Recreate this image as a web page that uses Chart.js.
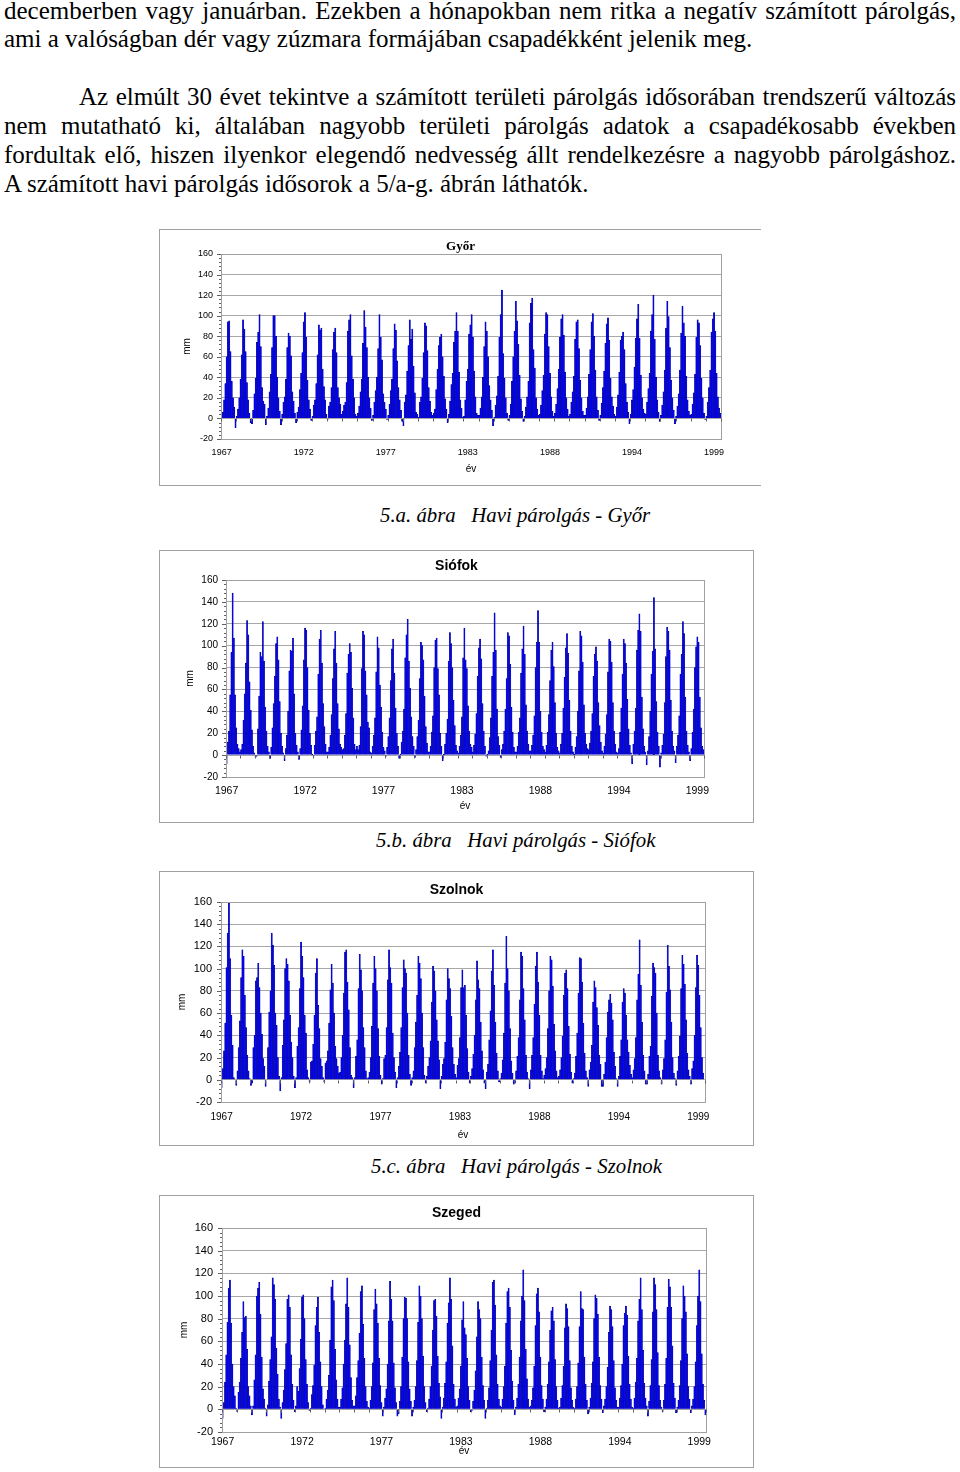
<!DOCTYPE html>
<html lang="hu">
<head>
<meta charset="utf-8">
<title>Havi párolgás</title>
<script src="https://cdn.jsdelivr.net/npm/chart.js@4.4.1/dist/chart.umd.min.js"></script>
<style>
  html, body { margin: 0; padding: 0; background: #fff; }
  body { position: relative; width: 960px; height: 1472px; overflow: hidden; }
  .line {
    position: absolute; left: 4px; width: 952px; height: 28px; line-height: 28px;
    font-family: "Liberation Serif", "Times New Roman", Times, serif; font-size: 25px; color: #000;
    white-space: nowrap;
  }
  .just { text-align: justify; text-align-last: justify; white-space: normal; }
  .indent { left: 79px; width: 877px; }
  .caption {
    position: absolute; line-height: 24px; white-space: pre;
    font-family: "Liberation Serif", "Times New Roman", Times, serif; font-size: 20.8px; font-style: italic; color: #000;
  }
  .box { position: absolute; box-sizing: border-box; border: 1px solid #a0a0a0; background: #fff; }
  .box canvas { position: absolute; left: 0; top: 0; }
</style>
</head>
<body>

<div class="line just" style="top:-3px">decemberben vagy januárban. Ezekben a hónapokban nem ritka a negatív számított párolgás,</div>
<div class="line" style="top:25px">ami a valóságban dér vagy zúzmara formájában csapadékként jelenik meg.</div>

<div class="line just indent" style="top:83px">Az elmúlt 30 évet tekintve a számított területi párolgás idősorában trendszerű változás</div>
<div class="line just" style="top:112px">nem mutatható ki, általában nagyobb területi párolgás adatok a csapadékosabb években</div>
<div class="line just" style="top:141px">fordultak elő, hiszen ilyenkor elegendő nedvesség állt rendelkezésre a nagyobb párolgáshoz.</div>
<div class="line" style="top:170px">A számított havi párolgás idősorok a 5/a-g. ábrán láthatók.</div>

<div class="box" style="left:159px; top:229px; width:602px; height:257px; border-right:none;">
  <canvas id="c1" width="601" height="255"></canvas>
</div>
<div class="caption" style="left:380px; top:503px;">5.a. ábra   Havi párolgás - Győr</div>

<div class="box" style="left:159px; top:550px; width:595px; height:273px;">
  <canvas id="c2" width="593" height="271"></canvas>
</div>
<div class="caption" style="left:376px; top:828px;">5.b. ábra   Havi párolgás - Siófok</div>

<div class="box" style="left:159px; top:871px; width:595px; height:275px;">
  <canvas id="c3" width="593" height="273"></canvas>
</div>
<div class="caption" style="left:371px; top:1154px;">5.c. ábra   Havi párolgás - Szolnok</div>

<div class="box" style="left:159px; top:1195px; width:595px; height:273px;">
  <canvas id="c4" width="593" height="271"></canvas>
</div>

<script>
// évek és a kiírt tengelyfeliratok helye (minden 65. hónap)
const years = [];
for (let y = 1967; y <= 1999; y++) years.push(y);
const tickMonths = [0, 65, 130, 195, 260, 325, 390];
const yTicks = { min: -20, max: 160, step: 20 };

// havi párolgás, mm (jan..dec), évenként
const gyor = [
    [3, 6, 18, 34, 60, 94, 95, 65, 36, 20, 11, -9],
    [2, 9, 20, 38, 62, 96, 87, 65, 35, 18, 5, -4],
    [-5, 8, 24, 39, 74, 84, 101, 70, 30, 17, 14, -6],
    [2, 10, 26, 43, 69, 100, 100, 80, 40, 20, 7, -6],
    [4, 16, 21, 38, 69, 83, 80, 61, 26, 17, 5, -4],
    [6, 11, 28, 44, 64, 94, 103, 79, 37, 18, 9, -2],
    [2, 13, 18, 34, 62, 91, 86, 88, 48, 31, 18, 4],
    [-1, 12, 16, 30, 67, 84, 88, 64, 30, 20, 14, 4],
    [7, 13, 16, 35, 85, 96, 101, 61, 38, 20, 4, 2],
    [5, 12, 26, 38, 73, 105, 89, 69, 40, 20, 10, -2],
    [3, 16, 27, 40, 68, 101, 79, 57, 24, 16, 9, -1],
    [3, 14, 27, 38, 68, 92, 86, 56, 30, 18, 8, -3],
    [-7, 16, 23, 46, 71, 96, 77, 87, 51, 25, 6, 4],
    [1, 16, 21, 39, 64, 93, 90, 66, 30, 17, 6, 3],
    [5, 9, 28, 48, 71, 79, 82, 60, 41, 19, 9, -4],
    [4, 17, 33, 44, 74, 85, 103, 85, 45, 18, 10, 1],
    [2, 18, 36, 48, 82, 91, 101, 79, 46, 21, 5, 3],
    [3, 10, 21, 40, 70, 94, 85, 60, 32, 18, 8, -7],
    [1, 13, 22, 41, 79, 101, 125, 63, 39, 20, 5, -2],
    [3, 14, 36, 60, 85, 114, 95, 72, 42, 19, 7, -3],
    [2, 11, 21, 36, 93, 112, 117, 67, 49, 20, 9, 3],
    [4, 13, 27, 42, 82, 103, 101, 70, 44, 21, 7, 2],
    [5, 14, 29, 48, 79, 97, 101, 81, 45, 20, 9, 2],
    [4, 16, 26, 41, 77, 94, 96, 68, 37, 20, 7, 3],
    [3, 10, 21, 43, 67, 94, 102, 80, 47, 21, 8, -2],
    [3, 15, 30, 46, 73, 92, 98, 76, 39, 21, 12, 4],
    [2, 11, 23, 45, 76, 80, 84, 67, 34, 16, 6, -5],
    [4, 18, 28, 50, 78, 97, 111, 78, 42, 20, 9, 5],
    [4, 16, 29, 44, 85, 101, 120, 77, 40, 18, 6, -3],
    [3, 13, 26, 47, 88, 114, 99, 69, 37, 20, 8, -5],
    [2, 12, 24, 47, 83, 109, 93, 80, 41, 18, 7, 3],
    [4, 14, 25, 43, 79, 96, 93, 71, 39, 20, 5, -1],
    [2, 16, 30, 47, 84, 97, 103, 85, 44, 21, 10, 5]
];

const siofok = [
    [-8, 12, 22, 55, 94, 148, 107, 55, 25, 10, 6, 3],
    [5, 10, 32, 56, 84, 123, 110, 67, 41, 23, 8, 2],
    [-2, -1, 24, 54, 94, 90, 122, 86, 44, 22, 8, 3],
    [-3, 7, 25, 47, 72, 102, 108, 87, 49, 20, 8, 2],
    [-5, 6, 18, 40, 77, 96, 95, 107, 56, 20, 9, 3],
    [-4, 6, 23, 45, 87, 116, 114, 80, 41, 20, 9, 1],
    [-1, 9, 22, 35, 74, 106, 114, 84, 47, 26, 10, 3],
    [3, 7, 18, 37, 70, 97, 113, 84, 47, 24, 10, 7],
    [5, 6, 18, 38, 75, 92, 102, 94, 61, 34, 10, 5],
    [8, 5, 9, 26, 79, 113, 110, 77, 55, 30, 25, 3],
    [2, 8, 18, 34, 76, 108, 98, 64, 44, 21, 7, 4],
    [-1, 7, 17, 34, 68, 97, 106, 75, 43, 20, 8, -3],
    [1, 12, 22, 42, 89, 110, 124, 86, 61, 35, 17, 8],
    [-2, 5, 17, 32, 70, 103, 100, 87, 54, 26, 11, 3],
    [3, 8, 21, 36, 80, 105, 107, 79, 55, 20, 8, -5],
    [1, 10, 20, 33, 86, 112, 102, 80, 50, 27, 9, 4],
    [2, 8, 18, 35, 89, 116, 87, 79, 45, 22, 10, 7],
    [3, 9, 19, 38, 72, 98, 106, 88, 47, 22, 8, -1],
    [1, 4, 16, 34, 72, 94, 130, 96, 42, 17, 9, -2],
    [5, 10, 22, 42, 70, 112, 109, 83, 44, 21, 7, 3],
    [3, 8, 21, 34, 75, 97, 118, 92, 46, 22, 10, 4],
    [4, 9, 18, 36, 80, 103, 132, 103, 40, 21, 8, 5],
    [3, 9, 21, 37, 68, 96, 103, 81, 48, 20, 7, 4],
    [2, 10, 20, 43, 71, 98, 111, 93, 50, 22, 8, 3],
    [1, 7, 17, 40, 77, 113, 109, 85, 46, 20, 10, 6],
    [5, 11, 22, 38, 72, 92, 99, 86, 48, 27, 12, 4],
    [2, 8, 19, 37, 76, 106, 104, 85, 48, 22, 10, 3],
    [2, 6, 21, 43, 74, 106, 102, 84, 51, 24, 9, 2],
    [-8, 10, 22, 43, 96, 114, 129, 113, 53, 24, 8, 3],
    [-9, 4, 17, 40, 74, 95, 144, 97, 49, 21, 8, -11],
    [2, 9, 19, 48, 90, 117, 113, 96, 50, 22, 8, 4],
    [-7, 8, 18, 36, 74, 92, 122, 111, 53, 22, 9, 3],
    [-5, 6, 21, 42, 80, 99, 108, 103, 53, 25, 8, 5]
];

const szolnok = [
    [-7, 10, 26, 51, 101, 132, 159, 109, 58, 31, 2, 0],
    [-5, 8, 29, 53, 92, 117, 111, 76, 47, 22, 8, 1],
    [-5, -3, 29, 40, 89, 92, 105, 83, 60, 41, 19, 12],
    [-6, 0, 29, 61, 80, 132, 121, 103, 60, 49, 20, 3],
    [-10, 2, 31, 54, 100, 109, 104, 89, 58, 34, 20, 3],
    [-7, 2, 30, 47, 82, 124, 111, 92, 58, 42, 9, 2],
    [-2, 16, 17, 32, 58, 96, 109, 67, 46, 19, 12, 2],
    [-2, 15, 17, 26, 51, 81, 104, 87, 60, 30, 19, 12],
    [6, 7, 20, 40, 78, 115, 117, 88, 63, 29, 4, 2],
    [-7, 2, 21, 36, 82, 113, 99, 80, 47, 29, 8, 1],
    [2, 7, 20, 48, 87, 111, 100, 80, 46, 21, 4, -4],
    [1, 19, 22, 47, 90, 117, 101, 87, 42, 20, 7, -7],
    [2, 12, 25, 47, 83, 108, 100, 96, 60, 22, 5, -5],
    [2, 8, 29, 52, 76, 111, 105, 91, 60, 29, 4, -3],
    [3, 12, 20, 35, 70, 102, 98, 80, 54, 35, 18, -8],
    [3, 14, 19, 34, 72, 100, 91, 82, 57, 29, 14, 5],
    [2, 13, 19, 38, 83, 99, 83, 85, 58, 28, 7, -3],
    [3, 10, 23, 40, 72, 107, 90, 82, 52, 26, 9, -3],
    [-8, 7, 14, 36, 62, 98, 117, 85, 52, 24, 8, -2],
    [1, 6, 18, 42, 87, 129, 100, 80, 46, 17, 6, -4],
    [-3, 8, 21, 38, 72, 115, 111, 82, 54, 22, 7, 1],
    [-8, 9, 22, 38, 68, 102, 115, 88, 58, 22, 8, 1],
    [4, 10, 20, 46, 80, 111, 108, 84, 50, 26, 8, 2],
    [3, 9, 20, 39, 76, 96, 99, 82, 48, 23, 7, -3],
    [1, 6, 21, 42, 78, 110, 109, 88, 51, 24, 8, 2],
    [-6, 9, 16, 31, 70, 89, 83, 65, 49, 22, 14, -6],
    [-6, 5, 16, 38, 61, 72, 77, 69, 54, 25, 12, 1],
    [-6, 3, 21, 36, 70, 82, 78, 58, 36, 25, 13, 5],
    [2, 9, 19, 38, 72, 95, 126, 85, 52, 22, 8, -4],
    [-4, 5, 21, 30, 75, 105, 101, 96, 60, 22, 8, 2],
    [-4, 9, 19, 36, 79, 121, 102, 81, 52, 20, 6, 1],
    [-5, 8, 21, 39, 82, 112, 104, 86, 54, 24, 9, 3],
    [-4, 10, 17, 40, 83, 112, 103, 76, 47, 20, 6, 0]
];

const szeged = [
    [-8, 6, 24, 48, 77, 107, 114, 76, 40, 20, 12, 1],
    [-2, 15, 24, 45, 68, 95, 81, 82, 53, 20, 12, 3],
    [-5, 3, 26, 48, 100, 107, 112, 84, 46, 18, 9, 1],
    [-6, 4, 25, 44, 64, 116, 110, 97, 54, 31, 9, 2],
    [-8, 6, 17, 35, 58, 97, 101, 90, 48, 22, 8, -2],
    [3, 20, 16, 36, 62, 99, 101, 80, 44, 22, 6, -1],
    [1, 13, 21, 39, 74, 90, 99, 68, 42, 20, 4, 0],
    [1, 9, 17, 30, 61, 108, 114, 96, 53, 26, 9, 2],
    [2, 9, 19, 40, 61, 93, 116, 90, 57, 28, 8, 3],
    [3, 12, 28, 43, 67, 104, 109, 75, 45, 20, 7, 2],
    [1, 8, 20, 41, 88, 106, 93, 76, 45, 21, 6, -6],
    [2, 10, 18, 40, 78, 113, 97, 78, 41, 19, 6, -6],
    [-4, 7, 20, 46, 80, 99, 98, 80, 42, 18, 7, -6],
    [2, 8, 20, 43, 77, 109, 100, 80, 47, 20, 6, -2],
    [1, 9, 20, 38, 70, 96, 97, 82, 47, 23, 11, -8],
    [2, 10, 23, 42, 76, 94, 116, 97, 56, 22, 9, 2],
    [3, 10, 18, 38, 79, 95, 72, 66, 45, 20, 8, -2],
    [-1, 7, 17, 34, 64, 95, 88, 80, 46, 21, 8, -8],
    [1, 8, 19, 43, 70, 112, 114, 92, 48, 22, 9, 3],
    [2, 9, 20, 38, 76, 104, 107, 90, 52, 25, 8, -5],
    [2, 10, 22, 46, 78, 100, 123, 96, 53, 27, 9, 2],
    [3, 8, 19, 38, 74, 102, 107, 86, 46, 21, 9, -2],
    [2, 9, 22, 42, 70, 87, 90, 78, 44, 20, 8, 1],
    [2, 10, 21, 38, 72, 93, 89, 73, 43, 19, 8, 2],
    [1, 9, 20, 41, 73, 104, 89, 88, 46, 22, 8, -4],
    [2, 10, 23, 42, 80, 101, 98, 84, 46, 21, 9, -3],
    [3, 9, 20, 37, 68, 91, 88, 73, 43, 19, 8, 2],
    [2, 10, 21, 40, 74, 85, 91, 83, 47, 22, 9, 2],
    [1, 10, 24, 45, 78, 97, 116, 88, 52, 23, 10, 3],
    [-6, 7, 21, 44, 86, 116, 110, 88, 50, 21, 8, 2],
    [-2, 8, 22, 45, 90, 115, 108, 90, 56, 23, 10, -3],
    [2, 8, 21, 43, 80, 109, 100, 86, 49, 20, 9, -3],
    [3, 9, 20, 42, 74, 100, 123, 95, 49, 22, 8, -5]
];

// kategóriák: minden hónap egy oszlop, felirata az év
const months = [];
years.forEach(y => {
    for (let m = 0; m < 12; m++) months.push(String(y));
});

const SANS = '"Liberation Sans", Arial, sans-serif';
const SERIF = '"Liberation Serif", "Times New Roman", Times, serif';

// Excel-szerű keret, y mellékosztások és évenkénti jelek a 0 vonalon
const excelFrame = {
    id: 'excelFrame',
    afterDraw(chart) {
        const { ctx, chartArea: a, scales: { x, y } } = chart;
        ctx.save();
        ctx.strokeStyle = '#a0a0a0';
        ctx.lineWidth = 1;
        ctx.strokeRect(Math.round(a.left) + 0.5, Math.round(a.top) + 0.5,
            Math.round(a.right) - Math.round(a.left), Math.round(a.bottom) - Math.round(a.top));

        ctx.strokeStyle = '#606060';
        ctx.beginPath();
        for (let v = yTicks.min; v <= yTicks.max; v += 4) {
            const py = Math.round(y.getPixelForValue(v)) + 0.5;
            const len = v % 20 === 0 ? 4 : 2;
            ctx.moveTo(Math.round(a.left) - len, py);
            ctx.lineTo(Math.round(a.left), py);
        }
        const y0 = Math.round(y.getPixelForValue(0)) + 0.5;
        const half = (x.getPixelForValue(1) - x.getPixelForValue(0)) / 2;
        for (let i = 0; i <= months.length; i += 12) {
            const px = Math.round(x.getPixelForValue(i) - half) + 0.5;
            ctx.moveTo(px, y0);
            ctx.lineTo(px, y0 + 3);
        }
        ctx.stroke();
        ctx.restore();
    }
};

function makeChart(id, title, values, L) {
    const data = values.flat();
    return new Chart(document.getElementById(id), {
        type: 'bar',
        data: {
            labels: months,
            datasets: [{
                data: data,
                backgroundColor: '#0000f2',
                borderColor: '#000080',
                borderWidth: 0.4,
                barPercentage: 1,
                categoryPercentage: 1
            }]
        },
        options: {
            responsive: false,
            animation: false,
            devicePixelRatio: 1,
            layout: { padding: 0 },
            plugins: {
                legend: { display: false },
                tooltip: { enabled: false },
                title: {
                    display: true,
                    text: title,
                    color: '#000',
                    font: { family: L.titleFamily, size: L.titleSize, weight: 'bold', lineHeight: 1 },
                    padding: { top: L.titleY - L.titleSize / 2, bottom: L.plotTop - L.titleY - L.titleSize / 2 }
                }
            },
            scales: {
                x: {
                    grid: { display: false, drawTicks: false, tickLength: 0 },
                    border: { display: false },
                    ticks: {
                        autoSkip: false,
                        maxRotation: 0,
                        minRotation: 0,
                        padding: L.xPad,
                        color: '#000',
                        font: { family: SANS, size: L.xSize },
                        callback: function (val, idx) {
                            return tickMonths.includes(idx) ? this.getLabelForValue(val) : null;
                        }
                    },
                    title: {
                        display: true,
                        text: 'év',
                        color: '#000',
                        font: { family: SANS, size: 10, lineHeight: 1.2 },
                        padding: { top: 0, bottom: L.evOff - 6 }
                    },
                    afterFit: s => { s.height = L.xHeight; }
                },
                y: {
                    min: yTicks.min,
                    max: yTicks.max,
                    grid: { color: '#a8a8a8', drawTicks: false },
                    border: { display: true, color: '#808080' },
                    ticks: {
                        stepSize: yTicks.step,
                        padding: L.yPad,
                        color: '#000',
                        font: { family: SANS, size: L.ySize }
                    },
                    title: {
                        display: true,
                        text: 'mm',
                        color: '#000',
                        font: { family: SANS, size: L.mmSize, lineHeight: 1.2 },
                        padding: { top: L.mmX - L.mmSize * 0.6, bottom: 0 }
                    },
                    afterFit: s => { s.width = L.plotLeft; }
                },
                // üres jobb oldali sáv, hogy a cím a teljes doboz közepén maradjon
                gap: {
                    type: 'linear',
                    position: 'right',
                    display: true,
                    grid: { display: false, drawTicks: false },
                    border: { display: false },
                    ticks: { display: false },
                    afterFit: s => { s.width = L.padRight; }
                }
            }
        },
        plugins: [excelFrame]
    });
}

makeChart('c1', 'Győr', gyor, {
    plotLeft: 61, plotTop: 24, padRight: 40, xHeight: 46,
    titleY: 17, titleSize: 13, titleFamily: SERIF,
    mmX: 27, mmSize: 10, evOff: 16,
    xPad: 8, xSize: 9, yPad: 8, ySize: 9
});

makeChart('c2', 'Siófok', siofok, {
    plotLeft: 66, plotTop: 29, padRight: 49, xHeight: 45,
    titleY: 15, titleSize: 14, titleFamily: SANS,
    mmX: 30, mmSize: 10, evOff: 16,
    xPad: 8, xSize: 10.5, yPad: 8, ySize: 10
});

makeChart('c3', 'Szolnok', szolnok, {
    plotLeft: 61, plotTop: 30, padRight: 48, xHeight: 43,
    titleY: 18, titleSize: 14, titleFamily: SANS,
    mmX: 22, mmSize: 10, evOff: 10,
    xPad: 9, xSize: 10, yPad: 9, ySize: 11
});

makeChart('c4', 'Szeged', szeged, {
    plotLeft: 62, plotTop: 32, padRight: 47, xHeight: 35,
    titleY: 17, titleSize: 14, titleFamily: SANS,
    mmX: 24, mmSize: 10, evOff: 16,
    xPad: 4, xSize: 10.5, yPad: 9, ySize: 11
});
</script>
</body>
</html>
